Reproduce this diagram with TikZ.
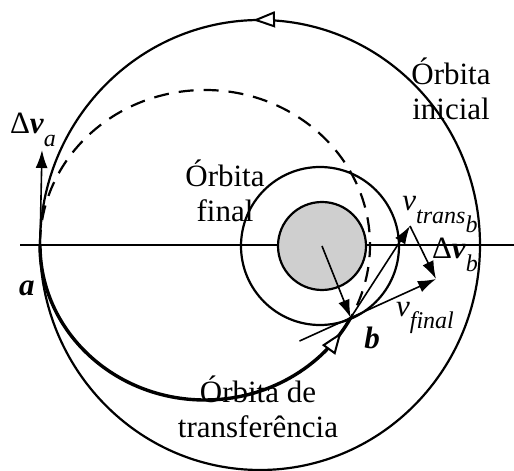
\documentclass[tikz,border=0pt]{standalone}
\usepackage{fontspec}
\setmainfont{Liberation Serif}
\usetikzlibrary{arrows.meta,decorations.markings,calc}
\definecolor{body}{HTML}{CFCFCF}
\newcommand{\sub}[1]{\raisebox{-0.4em}{\fontsize{12}{12}\selectfont\itshape #1}}

\begin{document}
\begin{tikzpicture}[x=0.5pt,y=0.5pt,font=\fontsize{15.5}{17.5}\selectfont,
  orbit/.style={line width=1.1pt},
  vec/.style={-{Latex[length=9pt,width=6pt]},line width=0.8pt},
  lbl/.style={align=center,inner sep=0pt},
  flow/.style={postaction={decorate},decoration={markings,
    mark=at position #1 with {\arrow{Triangle[fill=white,length=11pt,width=8pt,line width=1pt]}}}}]
\useasboundingbox (0,0) rectangle (514,471);
% points
\coordinate (a) at (40,226);
\coordinate (b) at ($(205,226)+(-28:165 and 155)$);
\coordinate (c) at (322,225);
\coordinate (vt) at (410,245);
\coordinate (vf) at (436,192);
\coordinate (dva) at (42,321);
\coordinate (tg) at ($(b)!-0.6!(vf)$);
% orbits
\draw[line width=1.1pt] (20,226) -- (514,226);
\draw[orbit,flow=0.255] (260,226) ellipse [x radius=220,y radius=225];
\draw[orbit,fill=body] (c) circle[radius=44];
\draw[orbit] (320,225) circle[radius=79];
\draw[orbit,dash pattern=on 7.5pt off 5pt] (a) arc[start angle=180,end angle=-28,x radius=165,y radius=155];
\draw[line width=1.7pt,flow=0.96] (a) arc[start angle=180,end angle=332,x radius=165,y radius=155];
% velocities
\draw[vec] (a) -- (dva);
\draw[vec] (c) -- (b);
\draw[vec] (b) -- (vt);
\draw[vec] (vt) -- (vf);
\draw[line width=0.8pt] (tg) -- (b);
\draw[vec] (b) -- (vf);
% labels
\node[lbl] (ini) at (451,382) {Órbita\\inicial};
\node[lbl] (fin) at (225,280) {Órbita\\final};
\node[lbl] (tra) at (258,64) {Órbita de\\transferência};
\node (la) at (27,183) {\textbf{\textit{a}}};
\node (lb) at (372,133) {\textbf{\textit{b}}};
\node (ldva) at (33,341) {Δ\textbf{\textit{v}}\sub{a}};
\node (lvt) at (440,256) {\textit{v}\sub{trans\sub{b}}};
\node (ldvb) at (455,216) {Δ\textbf{\textit{v}}\sub{b}};
\node (lvf) at (425,153) {\textit{v}\sub{final}};
\end{tikzpicture}
\end{document}
